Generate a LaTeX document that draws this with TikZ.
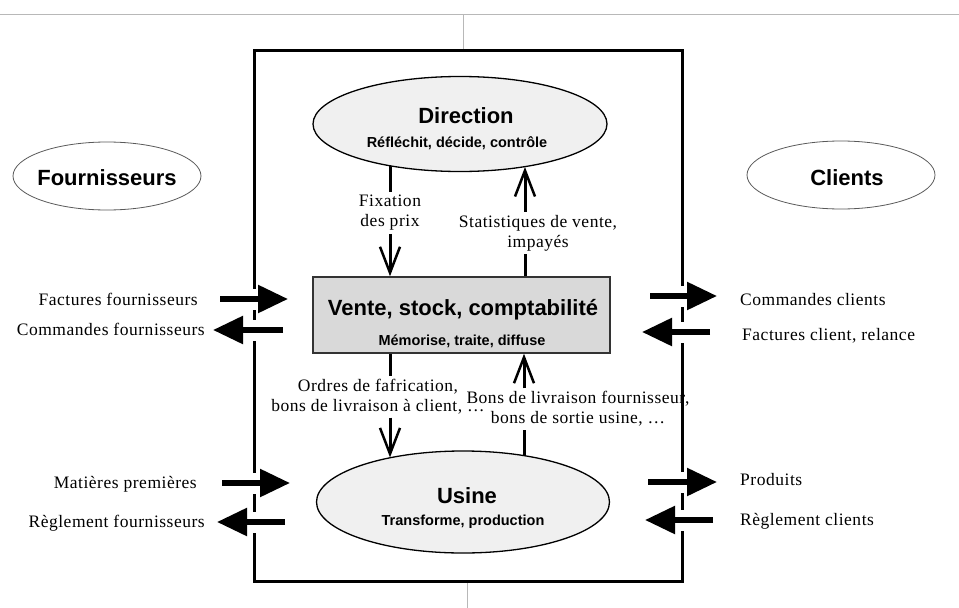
\documentclass[tikz,border=0pt]{standalone}
\usepackage{fontspec}
\setmainfont{Liberation Serif}[LetterSpace=3]
\setsansfont{Liberation Sans}
\usetikzlibrary{arrows.meta,shapes.geometric,backgrounds}
\definecolor{pale}{gray}{0.94}
\definecolor{boxgray}{gray}{0.85}
\definecolor{rulegray}{gray}{0.72}

\begin{document}
\begin{tikzpicture}[x=1pt,y=-1pt,
  hd/.style={font=\sffamily\bfseries\fontsize{22}{26}\selectfont, inner sep=0pt, anchor=base},
  sb/.style={font=\sffamily\bfseries\fontsize{14.5}{17}\selectfont, inner sep=0pt, anchor=base},
  txt/.style={font=\fontsize{17.5}{20}\selectfont, inner sep=0pt, anchor=base},
  note/.style={font=\fontsize{17.5}{20}\selectfont, align=center, inner sep=3pt},
  party/.style={ellipse, draw=black!65, line width=0.8pt, fill=white,
    minimum width=188pt, minimum height=68pt, inner sep=0pt},
  unit/.style={ellipse, draw=black, line width=1.3pt, fill=pale, inner sep=0pt},
  frame/.style={draw=black, line width=3pt, inner sep=0pt},
  rule/.style={draw=rulegray, line width=1pt},
  flowline/.style={line width=3pt},
  flow/.style={line width=3pt, -{Straight Barb[length=26pt,width=20pt,line width=2.5pt]}},
  halo/.style={draw=white, line width=21pt},
  bigarrow/.style={line width=5.5pt, -{Triangle[length=30pt,width=27pt]}}
]
\useasboundingbox (0,0) rectangle (959,608);

% page rules
\coordinate (ruleL) at (0,14);
\coordinate (ruleR) at (959,14);
\coordinate (tickT) at (463,14);
\coordinate (tickB) at (467,608);

% the company frame
\node[frame, minimum width=428pt, minimum height=531pt] (sys) at (468,315.5) {};

\draw[rule] (ruleL) -- (ruleR);
\draw[rule] (tickT) -- (tickT |- sys.north);
\draw[rule] (tickB) -- (tickB |- sys.south);

% outside partners
\node[party] (four) at (107,176) {};
\node[hd] (fourT) at (107,185) {Fournisseurs};
\node[party] (cli) at (841,175) {};
\node[hd] (cliT) at (847,185) {Clients};

% internal units
\node[unit, minimum width=294pt, minimum height=95pt] (dir) at (460,124) {};
\node[hd] (dirT) at (466,123) {Direction};
\node[sb] (dirS) at (457,147) {Réfléchit, décide, contrôle};

\node[draw=black!80, line width=1.5pt, fill=boxgray, minimum width=297pt,
      minimum height=76pt, inner sep=0pt] (vente) at (461.5,315) {};
\node[hd] (venteT) at (463,315) {Vente, stock, comptabilité};
\node[sb] (venteS) at (462,345) {Mémorise, traite, diffuse};

\node[unit, minimum width=293pt, minimum height=102pt] (usine) at (463,502) {};
\node[hd] (usineT) at (467,503) {Usine};
\node[sb] (usineS) at (463,525) {Transforme, production};

% internal flow labels
\node[note] (fix) at (390,213) {Fixation\\des prix};
\node[note] (stat) at (538,233) {Statistiques de vente,\\impayés};
\node[note] (ord) at (378,397) {Ordres de fafrication,\\bons de livraison à client, …};
\node[note] (bons) at (578,409) {Bons de livraison fournisseur,\\bons de sortie usine, …};

% internal flows
\coordinate (fx) at (390,0);
\coordinate (sx) at (525,0);
\coordinate (bx) at (524,0);
\begin{pgfonlayer}{background}
  \draw[flowline] (dir.center -| fx) -- (fix.north -| fx);
  \draw[flow] (fix.south -| fx) -- (vente.north -| fx);
  \draw[flowline] (vente.north -| sx) -- (stat.south -| sx);
  \draw[flow] (stat.north -| sx) -- (dir.-33 -| sx);
  \draw[flowline] (vente.south -| fx) -- (ord.north -| fx);
  \draw[flow] (ord.south -| fx) -- (usine.149 -| fx);
  \draw[flowline] (usine.center -| bx) -- (bons.south -| bx);
  \draw[flow] (bons.north -| bx) -- (vente.south -| bx);
\end{pgfonlayer}

% exchanges with suppliers
\node[txt, anchor=base east] (lf1) at (198,305) {Factures fournisseurs};
\node[txt, anchor=base east] (lf2) at (205,335) {Commandes fournisseurs};
\node[txt, anchor=base east] (lf3) at (197,488) {Matières premières};
\node[txt, anchor=base east] (lf4) at (205,527) {Règlement fournisseurs};
\coordinate (l1a) at (220,299); \coordinate (l1b) at (288,299);
\coordinate (l2a) at (283,330); \coordinate (l2b) at (213,330);
\coordinate (l3a) at (222,483); \coordinate (l3b) at (290,483);
\coordinate (l4a) at (285,522); \coordinate (l4b) at (217,522);

% exchanges with customers
\node[txt, anchor=base west] (rc1) at (740,305) {Commandes clients};
\node[txt, anchor=base west] (rc2) at (742,340) {Factures client, relance};
\node[txt, anchor=base west] (rc3) at (740,485) {Produits};
\node[txt, anchor=base west] (rc4) at (740,525) {Règlement clients};
\coordinate (r1a) at (650,296); \coordinate (r1b) at (717,296);
\coordinate (r2a) at (710,332); \coordinate (r2b) at (642,332);
\coordinate (r3a) at (648,482); \coordinate (r3b) at (717,482);
\coordinate (r4a) at (713,520); \coordinate (r4b) at (645,520);

\foreach \s/\e in {l1a/l1b,l2a/l2b,l3a/l3b,l4a/l4b,r1a/r1b,r2a/r2b,r3a/r3b,r4a/r4b}
  \draw[halo] (\s) -- (\e);
\foreach \s/\e in {l1a/l1b,l2a/l2b,l3a/l3b,l4a/l4b,r1a/r1b,r2a/r2b,r3a/r3b,r4a/r4b}
  \draw[bigarrow] (\s) -- (\e);
\end{tikzpicture}
\end{document}
